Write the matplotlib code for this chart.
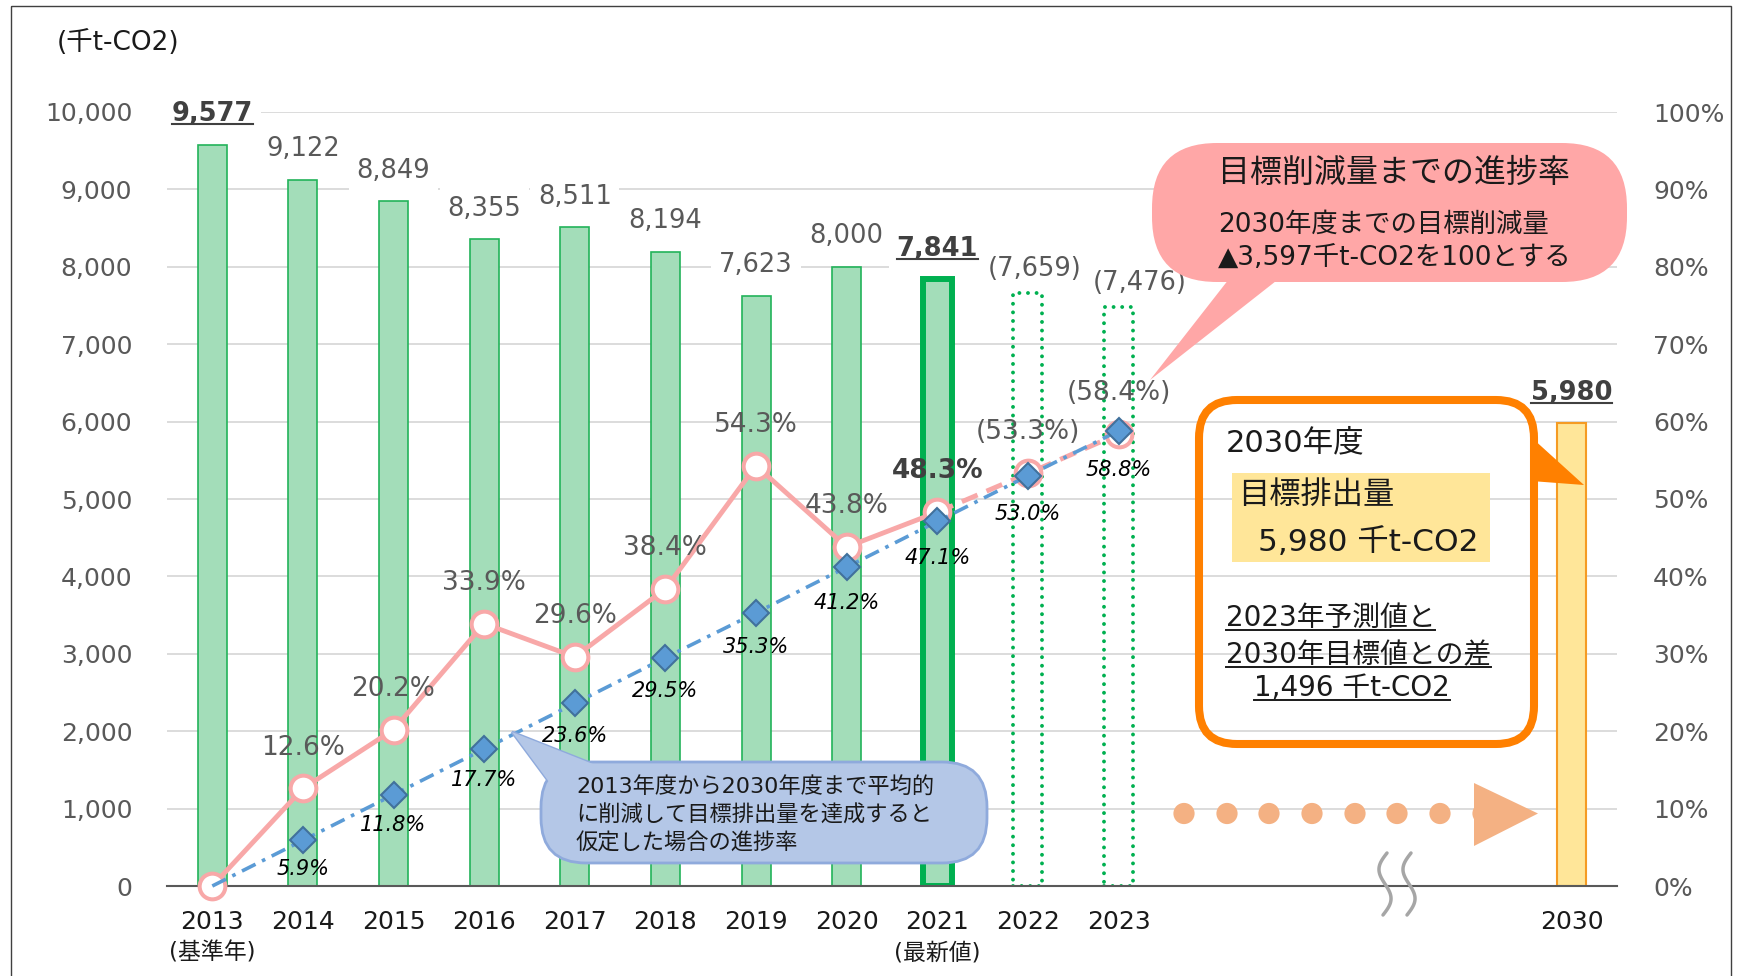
import numpy as np
import matplotlib
import matplotlib.pyplot as plt
from matplotlib.patches import FancyBboxPatch, Polygon, Circle, Rectangle
from matplotlib.transforms import Affine2D, IdentityTransform
from matplotlib.lines import Line2D

matplotlib.use('Agg')
plt.rcParams['font.family'] = ['DejaVu Sans', 'Noto Sans CJK JP']

W, H = 1743, 976  # 出力サイズ(px)

# データ
years = ['2013', '2014', '2015', '2016', '2017', '2018', '2019', '2020',
         '2021', '2022', '2023', '2030']
x_pos = list(range(11)) + [15]  # 2023と2030の間は省略
emissions = [9577, 9122, 8849, 8355, 8511, 8194, 7623, 8000, 7841, 7659, 7476, 5980]
emission_labels = ['9,577', '9,122', '8,849', '8,355', '8,511', '8,194', '7,623',
                   '8,000', '7,841', '(7,659)', '(7,476)', '5,980']
progress = [0, 12.6, 20.2, 33.9, 29.6, 38.4, 54.3, 43.8, 48.3, 53.3, 58.4]
progress_labels = ['', '12.6%', '20.2%', '33.9%', '29.6%', '38.4%', '54.3%',
                   '43.8%', '48.3%', '(53.3%)', '(58.4%)']
linear = [0, 5.9, 11.8, 17.7, 23.6, 29.5, 35.3, 41.2, 47.1, 53.0, 58.8]
linear_labels = ['', '5.9%', '11.8%', '17.7%', '23.6%', '29.5%', '35.3%',
                 '41.2%', '47.1%', '53.0%', '58.8%']
year_notes = {0: '(基準年)', 8: '(最新値)'}
y_ticks = np.arange(0, 10001, 1000)
pct_ticks = np.arange(0, 101, 10)

PINK = '#F8A8A8'
BLUE = '#5B9BD5'
GRAY = '#595959'

fig = plt.figure(figsize=(W / 100, H / 100), dpi=100)
ax = fig.add_axes([167 / W, 1 - 886 / H, (1617 - 167) / W, (886 - 112) / H])
# 画像ピクセル座標(左上原点)
px = Affine2D().scale(1 / W, -1 / H).translate(0, 1) + fig.transFigure

# 棒グラフ
bars = ax.bar(x_pos, emissions, width=0.32, color='#A3DDB9', edgecolor='#22B35A',
              linewidth=1.2, zorder=2)
bars[8].set_linewidth(4.3)
bars[8].set_edgecolor('#00B050')
for b in bars[9:11]:
    b.set_facecolor('none')
    b.set_edgecolor('#00B050')
    b.set_linewidth(2.8)
    b.set_linestyle((0, (0.01, 2.2)))
    b.set_capstyle('round')
bars[11].set_facecolor('#FFE699')
bars[11].set_edgecolor('#F59B23')
bars[11].set_linewidth(1.5)

ax.set_xlim(-0.5, 15.5)
ax.set_ylim(0, 10000)
ax.set_yticks(y_ticks)
ax.set_yticklabels([f'{v:,}' for v in y_ticks])
ax.set_xticks([])
ax.tick_params(axis='y', length=0, pad=25, labelsize=18, labelcolor=GRAY)
ax.yaxis.grid(True, color='#D9D9D9', lw=1.3)
ax.set_axisbelow(True)
for s in ['left', 'right', 'top']:
    ax.spines[s].set_visible(False)
ax.spines['bottom'].set_color(GRAY)
ax.spines['bottom'].set_linewidth(1.5)

underline = []
label_shift = {9: 5, 10: 15}  # 予測値ラベルは右へずらす
for i, (x, v, lab) in enumerate(zip(x_pos, emissions, emission_labels)):
    bold = i in (0, 8, 11)
    off = 17.5 if lab.startswith('(') else 22
    t = ax.annotate(lab, (x, v), xytext=(label_shift.get(i, 0), off),
                    textcoords='offset points', ha='center', va='center', fontsize=18.5,
                    color='#404040' if bold else GRAY,
                    fontweight='bold' if bold else 'normal',
                    bbox=dict(boxstyle='square,pad=0.3', fc='white', ec='none'), zorder=4)
    if bold:
        underline.append((t, 1.5, '#404040', 3))

# 年ラベル
xt = ax.get_xaxis_transform()
for x, y in zip(x_pos, years):
    ax.text(x, -0.046, y, transform=xt, ha='center', va='center', fontsize=18, color='#1a1a1a')
for i, note in year_notes.items():
    ax.text(x_pos[i], -0.086, note, transform=xt, ha='center', va='center', fontsize=16.5,
            color='#1a1a1a')

# 進捗率(第2軸)
ax2 = ax.twinx()
ax2.set_ylim(0, 100)
ax2.set_yticks(pct_ticks)
ax2.set_yticklabels([f'{v}%' for v in pct_ticks])
ax2.tick_params(axis='y', length=0, pad=26, labelsize=18, labelcolor=GRAY)
for s in ax2.spines.values():
    s.set_visible(False)

ax2.plot(x_pos[:9], progress[:9], color=PINK, lw=3.5, zorder=2, clip_on=False)
ax2.plot(x_pos[8:11], progress[8:11], color=PINK, lw=3.5, ls=(0, (3.5, 2)), zorder=2)
ax2.plot(x_pos[:11], progress, ls='none', marker='o', ms=18.5, mfc='white', mec=PINK,
         mew=2.9, zorder=3, clip_on=False)
ax2.plot(x_pos[:11], linear, color=BLUE, lw=2.6, ls=(0, (4.2, 2, 1, 2)), marker='D', ms=13,
         mfc=BLUE, mec='#41719C', mew=1.5, markevery=list(range(1, 11)), zorder=4,
         clip_on=False)

for i, (x, p, lab) in enumerate(zip(x_pos, progress, progress_labels)):
    if not lab:
        continue
    bold = i == 8
    ax2.annotate(lab, (x, p), xytext=(0, 29.5), textcoords='offset points', ha='center',
                 va='center', fontsize=19, color='#404040' if bold else GRAY,
                 fontweight='bold' if bold else 'normal', zorder=5)
for i, (x, p, lab) in enumerate(zip(x_pos, linear, linear_labels)):
    if not lab:
        continue
    # 右側ほどラベルが少し下がる
    ax2.annotate(lab, (x, p), xytext=(0, -(20 + 0.8 * i)), textcoords='offset points',
                 ha='center', va='center', fontsize=15, style='italic', color='black', zorder=5)

# 単位
fig.text(118, 43, '(千t-CO2)', transform=px, ha='center', va='center', fontsize=19,
         color='#1a1a1a')

# 外枠
fig.add_artist(Rectangle((11, 5.5), 1720, 1000, transform=px, fill=False, ec='#404040', lw=1))

# 吹き出し: 目標削減量までの進捗率
fig.add_artist(Polygon([(1236, 270), (1290, 270), (1150, 380)], closed=True, transform=px,
                       fc='#FFA7A7', ec='none', zorder=1))
fig.add_artist(FancyBboxPatch((1152, 143), 475, 139, boxstyle='round,pad=0,rounding_size=65',
                              transform=px, fc='#FFA7A7', ec='none', zorder=1))
fig.text(1218, 173, '目標削減量までの進捗率', transform=px, ha='left', va='center',
         fontsize=23, color='#1a1a1a')
fig.text(1218, 225, '2030年度までの目標削減量', transform=px, ha='left', va='center',
         fontsize=19, color='#1a1a1a')
fig.text(1218, 258, '▲3,597千t-CO2を100とする', transform=px, ha='left', va='center',
         fontsize=19, color='#1a1a1a')

# 2030年度の枠
fig.add_artist(FancyBboxPatch((1199, 400), 335, 344, boxstyle='round,pad=0,rounding_size=38',
                              transform=px, fc='none', ec='#FF8000', lw=5.8, zorder=1))
fig.add_artist(Polygon([(1531, 437), (1531, 481), (1584, 485)], closed=True, transform=px,
                       fc='#FF8000', ec='none', zorder=1))
fig.add_artist(Rectangle((1232, 473), 258, 89, transform=px, fc='#FFE699', ec='none', zorder=1))
fig.text(1226, 443, '2030年度', transform=px, ha='left', va='center', fontsize=22,
         color='#1a1a1a')
fig.text(1238, 496, '目標排出量', transform=px, ha='left', va='center', fontsize=22.5,
         color='#1a1a1a')
fig.text(1258, 542, '5,980 千t-CO2', transform=px, ha='left', va='center', fontsize=22.5,
         color='#1a1a1a')
for (x, y, s) in [(1226, 618, '2023年予測値と'), (1226, 655, '2030年目標値との差'),
                  (1254, 688, '1,496 千t-CO2')]:
    t = fig.text(x, y, s, transform=px, ha='left', va='center', fontsize=20, color='#1a1a1a')
    underline.append((t, 1.4, '#1a1a1a', 2))

# 吹き出し: 平均的に削減した場合
blue_tail = [(512, 732), (552, 786), (598, 766)]
fig.add_artist(Polygon(blue_tail, closed=True, transform=px, fc='#B4C7E7', ec='#8FAADC',
                       lw=2, zorder=1))
fig.add_artist(FancyBboxPatch((541, 762), 446, 101, boxstyle='round,pad=0,rounding_size=45',
                              transform=px, fc='#B4C7E7', ec='#8FAADC', lw=2, zorder=1.1))
fig.add_artist(Polygon(blue_tail, closed=True, transform=px, fc='#B4C7E7', ec='none',
                       zorder=1.2))
for y, s in [(787, '2013年度から2030年度まで平均的'), (815, 'に削減して目標排出量を達成すると'),
             (843, '仮定した場合の進捗率')]:
    fig.text(576, y, s, transform=px, ha='left', va='center', fontsize=16, color='#1a1a1a')

# 点線矢印
for cx in [1184, 1227, 1269, 1312, 1355, 1397, 1440, 1483]:
    fig.add_artist(Circle((cx, 813.5), 10.6, transform=px, fc='#F4B183', ec='none', zorder=1))
fig.add_artist(Polygon([(1474, 783), (1474, 846), (1538, 813.5)], closed=True, transform=px,
                       fc='#F4B183', ec='none', zorder=1.1))

# 省略記号
tt = np.linspace(0, 1, 60)
for xc in (1385, 1409):
    fig.add_artist(Line2D(xc - 7 * np.sin(2 * np.pi * tt) + 4 * (0.5 - tt), 853 + 62 * tt,
                          transform=px, color='#A6A6A6', lw=2.5, solid_capstyle='round'))

# 下線
fig.canvas.draw()
r = fig.canvas.get_renderer()
for t, lw, c, dy in underline:
    ext = t.get_window_extent(r)
    fig.add_artist(Line2D([ext.x0, ext.x1], [ext.y0 + dy, ext.y0 + dy],
                          transform=IdentityTransform(), color=c, lw=lw))

fig.savefig('out.png', dpi=100)
